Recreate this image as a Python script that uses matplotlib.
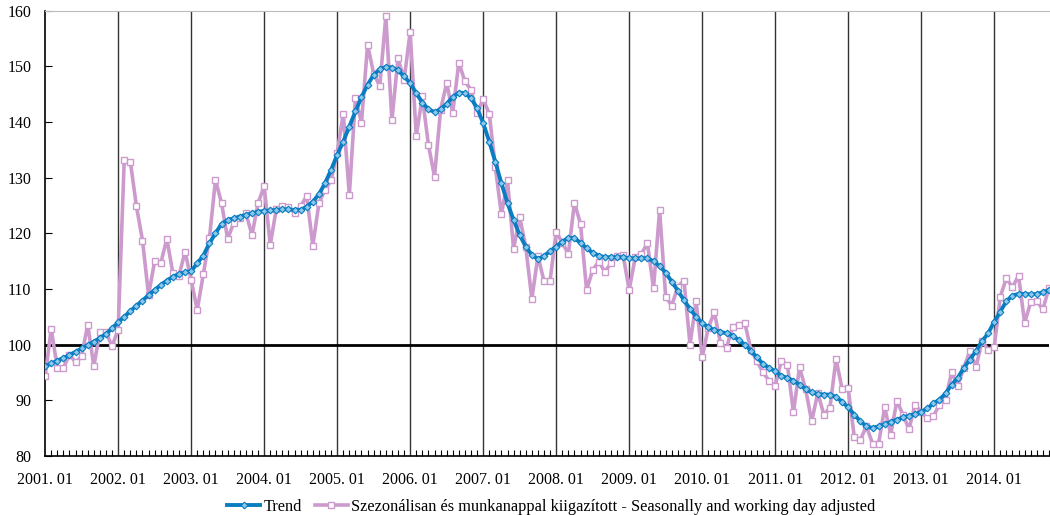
import matplotlib
matplotlib.use("Agg")
import matplotlib.pyplot as plt
from matplotlib.ticker import MultipleLocator

plt.rcParams['font.family'] = ['Liberation Serif', 'DejaVu Serif']

# Havi adatok 2001.01 - 2014.10
evek = list(range(2001, 2015))
cimkek = [f"{ev}. 01" for ev in evek]

# Szezonálisan és munkanappal kiigazított
kiigazitott = [
    94.3, 102.8, 95.8, 95.8, 98.2, 96.8, 97.9, 103.6, 96.1, 102.2, 102.2, 99.7,
    102.7, 133.2, 132.9, 124.9, 118.7, 108.9, 115.0, 114.6, 119.0, 112.8, 112.4, 116.7,
    111.6, 106.2, 112.7, 119.1, 129.6, 125.4, 119.0, 121.9, 122.7, 123.6, 119.7, 125.4,
    128.5, 117.9, 124.4, 124.9, 124.7, 123.7, 124.9, 126.7, 117.8, 125.4, 127.8, 129.5,
    134.4, 141.5, 126.9, 144.3, 139.9, 153.9, 148.7, 146.5, 159.0, 140.3, 151.5, 147.6,
    156.2, 137.5, 144.6, 135.9, 130.2, 142.2, 147.0, 141.7, 150.7, 147.3, 145.8, 141.6,
    144.1, 141.5, 131.9, 123.4, 129.5, 117.2, 122.9, 117.6, 108.2, 115.9, 111.4, 111.5,
    120.3, 118.3, 116.3, 125.5, 121.7, 109.8, 113.4, 114.9, 113.1, 114.6, 115.9, 116.1,
    109.8, 115.7, 116.3, 118.2, 110.1, 124.2, 108.6, 107.0, 110.4, 111.5, 100.0, 107.8,
    97.7, 103.0, 105.8, 100.3, 99.4, 103.2, 103.6, 103.9, 99.1, 97.0, 95.0, 93.5,
    92.6, 97.0, 96.4, 87.8, 95.9, 92.0, 86.2, 91.3, 87.4, 88.6, 97.4, 92.0,
    92.1, 83.4, 82.9, 85.3, 82.2, 82.2, 88.7, 83.8, 89.9, 87.4, 84.8, 89.2,
    87.8, 86.8, 87.1, 89.2, 90.1, 95.0, 92.6, 95.8, 98.8, 95.9, 100.6, 99.1,
    99.5, 108.6, 111.9, 110.3, 112.4, 103.9, 107.6, 107.8, 106.3, 110.2,
]

# Trend
trend = [
    96.1, 96.6, 97.1, 97.6, 98.1, 98.7, 99.3, 99.9, 100.5, 101.2, 101.9, 102.9,
    104.0, 105.0, 106.0, 107.0, 107.9, 108.9, 109.8, 110.7, 111.5, 112.2, 112.7, 113.0,
    113.2, 114.6, 116.0, 118.2, 120.0, 121.7, 122.4, 122.7, 123.0, 123.3, 123.6, 123.9,
    124.0, 124.1, 124.2, 124.3, 124.3, 124.2, 124.2, 124.8, 125.7, 127.0, 129.0, 131.4,
    134.1, 136.5, 139.2, 141.9, 144.5, 146.7, 148.5, 149.5, 149.9, 149.8, 149.3, 148.2,
    147.0, 145.2, 143.5, 142.3, 141.8, 142.3, 143.3, 144.5, 145.3, 145.2, 144.3, 142.5,
    139.8, 136.5, 132.8, 129.0, 125.4, 122.4, 119.7, 117.6, 116.1, 115.4, 115.9, 116.8,
    117.6, 118.5, 119.2, 119.1, 118.3, 117.3, 116.5, 116.0, 115.7, 115.7, 115.7, 115.7,
    115.5, 115.5, 115.5, 115.5, 115.0, 114.1, 112.9, 111.3, 109.7, 108.0, 106.4, 105.0,
    103.9, 103.1, 102.6, 102.3, 102.0, 101.6, 100.8, 100.0, 98.9, 97.7, 96.5, 95.8,
    95.2, 94.4, 94.0, 93.5, 92.8, 92.0, 91.4, 91.1, 91.0, 91.0, 90.6, 89.7,
    88.7, 87.4, 86.2, 85.3, 85.0, 85.3, 85.7, 86.1, 86.5, 86.9, 87.2, 87.5,
    87.9, 88.5, 89.4, 90.1, 91.2, 92.8, 94.0, 95.8, 97.3, 98.8, 100.6, 102.0,
    104.1, 105.9, 107.8, 108.8, 109.1, 109.1, 109.0, 109.1, 109.4, 109.8,
]

honapok = list(range(len(trend)))
ev_poziciok = [12 * i for i in range(len(evek))]

fig = plt.figure(figsize=(10.5, 5.15), dpi=100)
ax = fig.add_axes([0.043, 0.115, 0.956, 0.864])

# évenkénti függőleges rácsvonalak + 100-as vonal
for p in ev_poziciok[1:]:
    ax.axvline(p, color='#333333', lw=1, zorder=1)
ax.axhline(100, color='black', lw=2, zorder=1)

ax.plot(honapok, trend, color='#0a7dc2', lw=2.8, marker='D', ms=3.4,
        mfc='#8cc8ea', mec='#0a7dc2', mew=0.8, label='Trend', zorder=4)
ax.plot(honapok, kiigazitott, color='#cc9acd', lw=2.6, marker='s', ms=4.5,
        mfc='white', mec='#cc9acd', mew=1,
        label='Szezonálisan és munkanappal kiigazított - Seasonally and working day adjusted',
        zorder=3)

ax.set_xlim(0, len(trend) - 1)
ax.set_ylim(80, 160)
ax.yaxis.set_major_locator(MultipleLocator(10))
ax.set_xticks(ev_poziciok)
ax.set_xticklabels(cimkek)
ax.xaxis.set_minor_locator(MultipleLocator(1))

ax.tick_params(axis='x', which='major', length=0, labelsize=11.5, pad=12)
ax.tick_params(axis='x', which='minor', direction='in', length=4, width=0.8)
ax.tick_params(axis='y', direction='in', length=5, width=0.8, labelsize=11.5, pad=10)

ax.spines['top'].set_color('#bbbbbb')
ax.spines['right'].set_visible(False)
ax.spines['left'].set_linewidth(1.2)
ax.spines['bottom'].set_linewidth(1.2)

fig.legend(loc='center', bbox_to_anchor=(0.525, 0.016), ncol=2, frameon=False,
           fontsize=11.8, handlelength=2.0, columnspacing=0.8, handletextpad=0.2)

fig.savefig('out.png', dpi=100)
